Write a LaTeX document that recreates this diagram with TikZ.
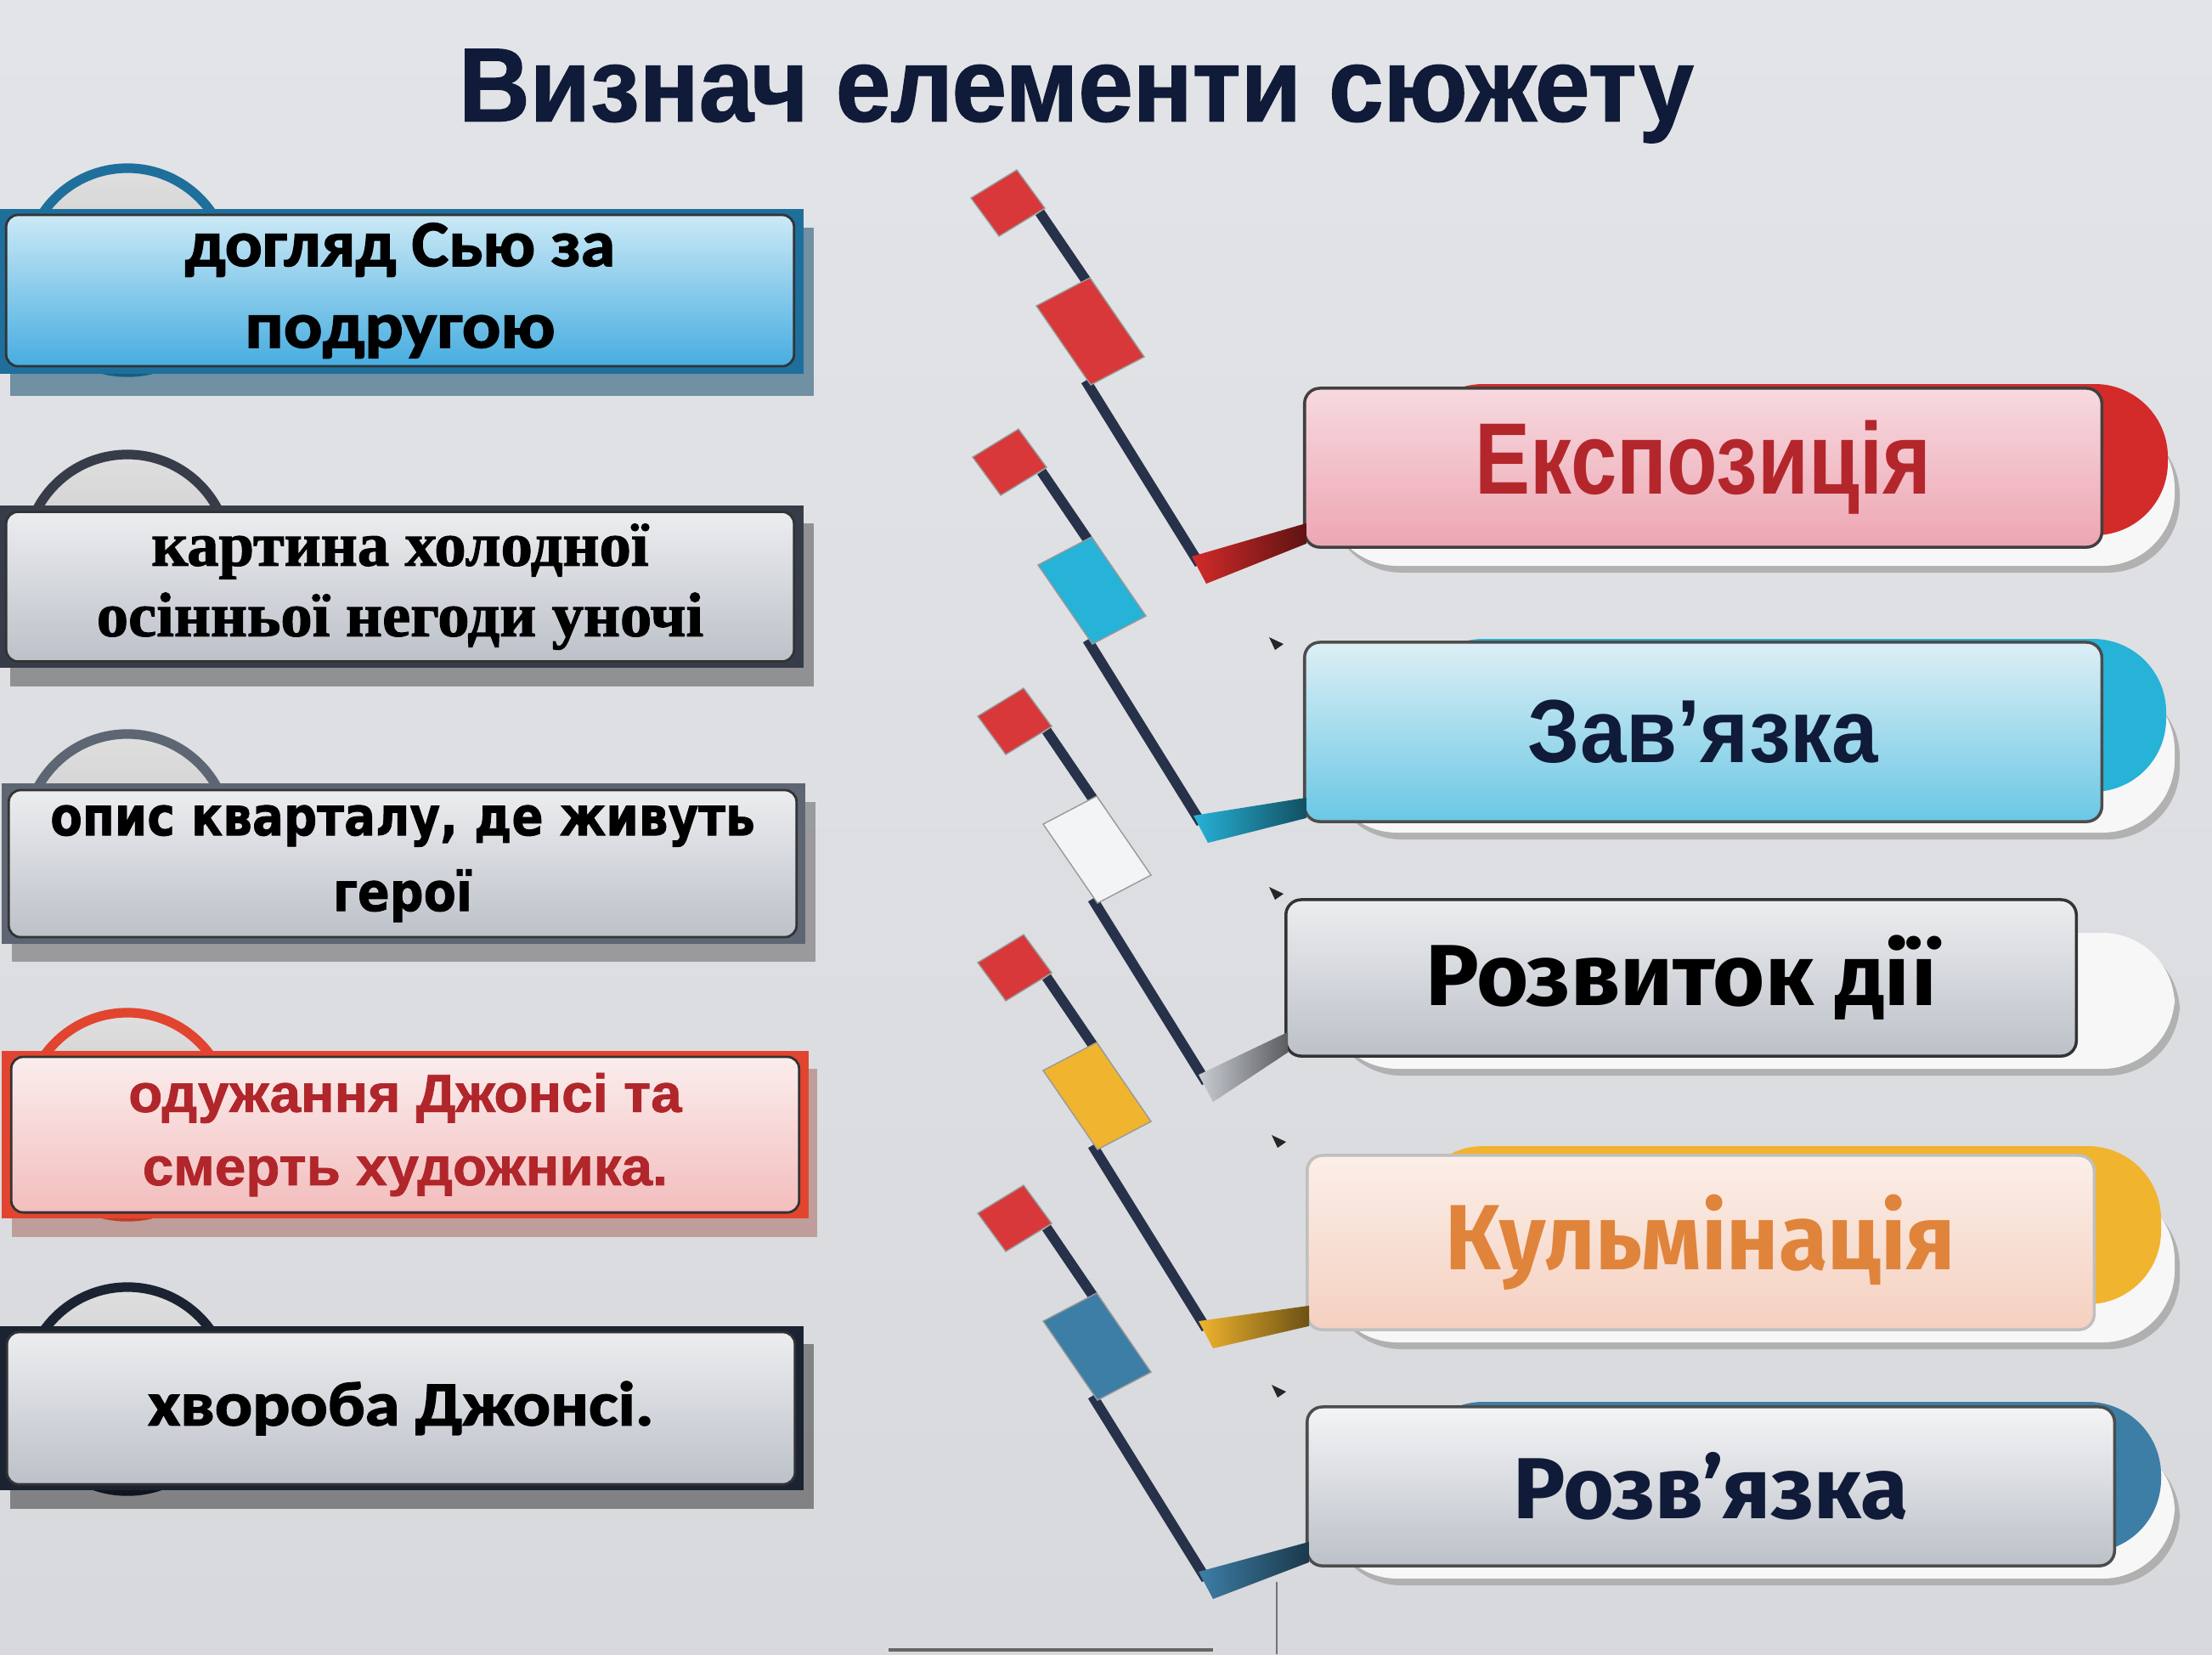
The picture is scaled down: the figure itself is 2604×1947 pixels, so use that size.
\documentclass[tikz,border=0pt]{standalone}
\usepackage{fontspec}
\usepackage{graphicx}
\setmainfont{Liberation Sans}
\newfontfamily\fls{Liberation Sans}
\newfontfamily\flsH{Liberation Sans}[BoldFeatures={FakeBold=1.2}]
\newfontfamily\fserif{Liberation Serif}[BoldFeatures={FakeBold=1.5}]
\newfontfamily\fdv{DejaVu Sans}[BoldFeatures={FakeBold=1.2}]
\newfontfamily\fcar{Carlito}[BoldFeatures={FakeBold=1.8}]
\newfontfamily\ffira{Fira Sans}
\newcommand\fitw[2]{\resizebox{#1}{\height}{#2}}
\usetikzlibrary{shadings,calc}
\definecolor{bgtop}{HTML}{E3E4E7}
\definecolor{bgbot}{HTML}{D8D9DD}
\definecolor{navy}{HTML}{0F1B38}
\definecolor{bandA}{HTML}{1E6F9C}
\definecolor{bandB}{HTML}{363C48}
\definecolor{bandC}{HTML}{5E6673}
\definecolor{bandD}{HTML}{E2452F}
\definecolor{bandE}{HTML}{1B2332}
\definecolor{redtxt}{HTML}{B0262B}
\definecolor{exred}{HTML}{B3272C}
\definecolor{capred}{HTML}{D32A2A}
\definecolor{capcyan}{HTML}{27B2D8}
\definecolor{capyel}{HTML}{F0B42E}
\definecolor{capblue}{HTML}{3D7EA6}
\definecolor{flred}{HTML}{D8383A}
\definecolor{flwhite}{HTML}{F2F4F6}
\definecolor{stgray}{HTML}{C9CDD3}
\definecolor{polecol}{HTML}{27324A}
\definecolor{orangetxt}{HTML}{E0843C}
\definecolor{silvtop}{HTML}{ECEDEF}
\definecolor{silvbot}{HTML}{BCC1C9}
\definecolor{bluetop}{HTML}{CBE9F6}
\definecolor{bluebot}{HTML}{47ADE0}
\definecolor{pinktop}{HTML}{F7D9DF}
\definecolor{pinkbot}{HTML}{EDA6B3}
\definecolor{cyantop}{HTML}{DDEFF5}
\definecolor{cyanbot}{HTML}{6AC7E5}
\definecolor{peachtop}{HTML}{FBEFE8}
\definecolor{peachbot}{HTML}{F5D0C0}
\definecolor{rosetop}{HTML}{FBEDED}
\definecolor{rosebot}{HTML}{F3BDBD}
\newcommand\connector[6]{%
  \begin{scope}[shift={(#1,#2)}]
    \draw[pole] (1224,250) -- (1290,347);
    \filldraw[flagbox,fill=flred] (1143,233) -- (1197,200) -- (1230,245) -- (1176,278) -- cycle;
    \draw[pole] (1278,448) -- (1412,664);
    \filldraw[flagbox,fill=#3] (1220,360) -- (1283,327) -- (1347,420) -- (1284,453) -- cycle;
    \coordinate (#6a) at (1403,655);
    \coordinate (#6b) at (1420,687);
  \end{scope}
  \shade[left color=#4,right color=#4!45!black] (#6a) -- ($(#5.south west)+(4,-30)$) -- ($(#5.south west)+(4,-6)$) -- (#6b) -- cycle;
}
\begin{document}
\begin{tikzpicture}[x=0.01cm,y=-0.01cm,
  title/.style={font=\flsH\bfseries\fontsize{35}{40}\selectfont,text=navy,inner sep=0pt},
  lbox/.style={draw=black!80,line width=0.8pt,rounded corners=1.4mm,minimum width=92.7mm,inner sep=0pt,align=center},
  rbox/.style={line width=1pt,rounded corners=1.8mm,inner sep=0pt},
  tab/.style={line width=3.2pt,top color=gray!25,bottom color=gray!55},
  pole/.style={line width=3.4pt,draw=polecol,line cap=butt},
  flagbox/.style={draw=black!40,line width=0.4pt},
  blip/.style={fill=black!85}]
\useasboundingbox (0,0) rectangle (2604,1947);
\shade[top color=bgtop,bottom color=bgbot] (0,0) rectangle (2604,1947);

% title
\node[title] (title) at (1267,113) {\fitw{145.3mm}{Визнач елементи сюжету}};

% ---------- left boxes ----------
% 1
\draw[tab,draw=bandA] (150,318) circle [radius=1.2cm];
\fill[bandA!70!black,opacity=.55] (12,268) rectangle (958,466);
\fill[bandA] (0,246) rectangle (946,440);
\node[lbox,top color=bluetop,bottom color=bluebot,minimum height=17.8mm,
  font=\fcar\bfseries\fontsize{22}{27.3}\selectfont] (l1) at (471,342)
  {\fitw{50.6mm}{догляд Сью за}\\\fitw{36.5mm}{подругою}};
% 2
\draw[tab,draw=bandB] (150,655) circle [radius=1.2cm];
\fill[black,opacity=.35] (12,616) rectangle (958,808);
\fill[bandB] (0,595) rectangle (946,786);
\node[lbox,top color=silvtop,bottom color=silvbot,minimum height=17.6mm,
  font=\fserif\bfseries\fontsize{21}{23.6}\selectfont] (l2) at (471,690.5)
  {\fitw{58.5mm}{картина холодної}\\\fitw{71.4mm}{осінньої негоди уночі}};
% 3
\draw[tab,draw=bandC] (150,984) circle [radius=1.2cm];
\fill[black,opacity=.3] (14,944) rectangle (960,1132);
\fill[bandC] (2,922) rectangle (948,1111);
\node[lbox,top color=silvtop,bottom color=silvbot,minimum height=17.3mm,
  font=\fdv\bfseries\fontsize{18}{25.3}\selectfont] (l3) at (474,1016.5)
  {\fitw{82.9mm}{опис кварталу, де живуть}\\\fitw{16.4mm}{герої}};
% 4
\draw[tab,draw=bandD] (150,1312) circle [radius=1.2cm];
\fill[bandD!60!black,opacity=.35] (14,1258) rectangle (962,1456);
\fill[bandD] (2,1237) rectangle (952,1434);
\node[lbox,top color=rosetop,bottom color=rosebot,minimum height=18.3mm,text=redtxt,
  font=\flsH\bfseries\fontsize{18}{24.5}\selectfont] (l4) at (477,1335.5)
  {\fitw{65.1mm}{одужання Джонсі та}\\\fitw{61.8mm}{смерть художника.}};
% 5
\draw[tab,draw=bandE] (150,1635) circle [radius=1.2cm];
\fill[black,opacity=.4] (12,1582) rectangle (958,1776);
\fill[bandE] (0,1561) rectangle (946,1754);
\node[lbox,top color=silvtop,bottom color=silvbot,minimum height=17.9mm,
  font=\fcar\bfseries\fontsize{21}{25}\selectfont] (l5) at (472,1657.5)
  {\fitw{59.5mm}{хвороба Джонсі.}};

% ---------- right boxes ----------
% shadow pills
\foreach \a/\b in {490/674,798/988,1098/1266,1398/1588,1694/1866}{
  \fill[gray!70,opacity=.8,rounded corners=8.5mm] (1565,\a+8) rectangle (2566,\b);
  \fill[white!94!gray,rounded corners=8.5mm] (1560,\a) rectangle (2560,\b-8);
}
% coloured back pills
\fill[capred,rounded corners=8.6mm] (1660,452) rectangle (2552,630);
\fill[capcyan,rounded corners=8.6mm] (1660,752) rectangle (2550,932);
\fill[capyel,rounded corners=8.6mm] (1660,1349) rectangle (2544,1535);
\fill[capblue,rounded corners=8.6mm] (1660,1650) rectangle (2544,1827);

\node[rbox,draw=black!75,top color=pinktop,bottom color=pinkbot,minimum width=93.8mm,minimum height=18.7mm,
  font=\fls\bfseries\fontsize{34}{38}\selectfont,text=exred] (r1) at (2005,550.5)
  {\fitw{53.6mm}{Експозиція}};
\node[rbox,draw=black!70,top color=cyantop,bottom color=cyanbot,minimum width=93.8mm,minimum height=21.1mm,
  font=\fls\bfseries\fontsize{30}{34}\selectfont,text=navy] (r2) at (2005,861.5)
  {\fitw{41.2mm}{Зав’язка}};
\node[rbox,draw=black!80,top color=silvtop,bottom color=silvbot,minimum width=93mm,minimum height=18.4mm,
  font=\ffira\bfseries\fontsize{29}{33}\selectfont,text=black] (r3) at (1979,1151)
  {\fitw{60.1mm}{Розвиток дії}};
\node[rbox,draw=black!25,top color=peachtop,bottom color=peachbot,minimum width=92.6mm,minimum height=20.5mm,
  font=\ffira\bfseries\fontsize{31}{35}\selectfont,text=orangetxt] (r4) at (2002,1462.5)
  {\fitw{60mm}{Кульмінація}};
\node[rbox,draw=black!70,top color=silvtop!60!white,bottom color=silvbot,minimum width=95mm,minimum height=18.7mm,
  font=\ffira\bfseries\fontsize{29}{33}\selectfont,text=navy] (r5) at (2014,1749.5)
  {\fitw{46.5mm}{Розв’язка}};

% ---------- connectors ----------
\connector{0}{0}{flred}{capred}{r1}{c1}
\connector{2}{305}{capcyan}{capcyan}{r2}{c2}
\connector{8}{610}{flwhite}{stgray}{r3}{c3}
\connector{8}{900}{capyel}{capyel}{r4}{c4}
\connector{8}{1195}{capblue}{capblue}{r5}{c5}

% small marks
\foreach \x/\y in {1503/756,1503/1050,1506/1342,1506/1636}{
  \fill[blip] (\x-9,\y-6) -- (\x+8,\y+2) -- (\x-2,\y+9) -- cycle;
}
% screen edges at the bottom
\draw[black!55,line width=0.6pt] (1503,1862) -- (1503,1947);
\draw[black!60,line width=0.9pt] (1046,1942) -- (1428,1942);
\end{tikzpicture}
\end{document}
